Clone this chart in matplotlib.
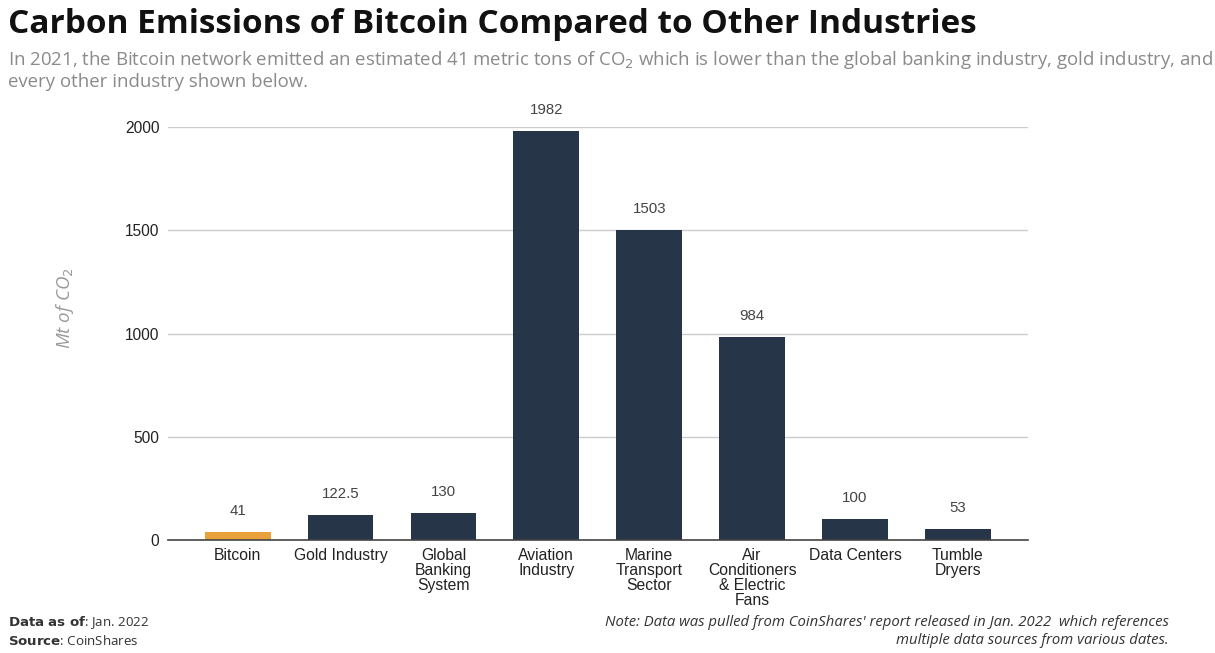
import matplotlib
matplotlib.use("Agg")
import matplotlib.pyplot as plt

# Data
CATEGORIES = ["Bitcoin", "Gold Industry", "Global\nBanking\nSystem", "Aviation\nIndustry",
              "Marine\nTransport\nSector", "Air\nConditioners\n& Electric\nFans",
              "Data Centers", "Tumble\nDryers"]
VALUES = [41, 122.5, 130, 1982, 1503, 984, 100, 53]
VALUE_LABELS = ["41", "122.5", "130", "1982", "1503", "984", "100", "53"]
YTICKS = [0, 500, 1000, 1500, 2000]

NAVY = "#263548"
ORANGE = "#E9A23B"

fig = plt.figure(figsize=(12.15, 6.53), dpi=100)
ax = fig.add_axes([0.138, 0.173, 0.708, 0.6325])

colors = [ORANGE] + [NAVY] * (len(VALUES) - 1)
x = list(range(len(VALUES)))
ax.bar(x, VALUES, width=0.64, color=colors, zorder=3)

for xi, v, lab in zip(x, VALUES, VALUE_LABELS):
    ax.annotate(lab, (xi, v), xytext=(0, 10), textcoords="offset points",
                ha="center", va="bottom", fontsize=10.8, color="#444444",
                family="Liberation Sans", annotation_clip=False)

ax.set_xlim(-0.68, 7.68)
ax.set_ylim(0, 2000)
ax.set_yticks(YTICKS)
ax.set_yticklabels([str(t) for t in YTICKS], family="Liberation Sans", fontsize=11.2, color="#222222")
ax.set_xticks(x)
ax.set_xticklabels(CATEGORIES, family="Liberation Sans", fontsize=11.3, color="#222222",
                   linespacing=1.0, va="top")
ax.tick_params(axis="both", length=0)
ax.tick_params(axis="y", pad=6)
ax.tick_params(axis="x", pad=6)
ax.grid(axis="y", color="#cccccc", linewidth=1, zorder=0)
for s in ["top", "right", "left"]:
    ax.spines[s].set_visible(False)
ax.spines["bottom"].set_color("#444444")
ax.spines["bottom"].set_linewidth(1.2)
ax.spines["bottom"].set_zorder(4)

fig.text(0.0535, 0.528, "Mt of CO$_2$", family="Open Sans", style="italic", fontsize=13.5,
         color="#9a9a9a", rotation=90, ha="center", va="center")

# Title and subtitle
fig.text(0.0066, 0.963, "Carbon Emissions of Bitcoin Compared to Other Industries",
         family="Open Sans", weight="bold", fontsize=24, color="#111111", va="center")
fig.text(0.0066, 0.908,
         "In 2021, the Bitcoin network emitted an estimated 41 metric tons of CO$_2$ which is lower than the global banking industry, gold industry, and",
         family="Open Sans", fontsize=13.4, color="#8a8a8a", va="center")
fig.text(0.0066, 0.874, "every other industry shown below.",
         family="Open Sans", fontsize=13.4, color="#8a8a8a", va="center")

# Footer
fig.text(0.0066, 0.047, "$\\bf{Data\\ as\\ of}$: Jan. 2022", family="Open Sans",
         fontsize=9.6, color="#333333", va="center")
fig.text(0.0066, 0.019, "$\\bf{Source}$: CoinShares", family="Open Sans",
         fontsize=9.6, color="#333333", va="center")
fig.text(0.962, 0.047, "Note: Data was pulled from CoinShares' report released in Jan. 2022  which references",
         family="Open Sans", style="italic", fontsize=10.7, color="#333333", ha="right", va="center")
fig.text(0.962, 0.019, "multiple data sources from various dates.",
         family="Open Sans", style="italic", fontsize=10.7, color="#333333", ha="right", va="center")

fig.savefig("out.png", dpi=100)
